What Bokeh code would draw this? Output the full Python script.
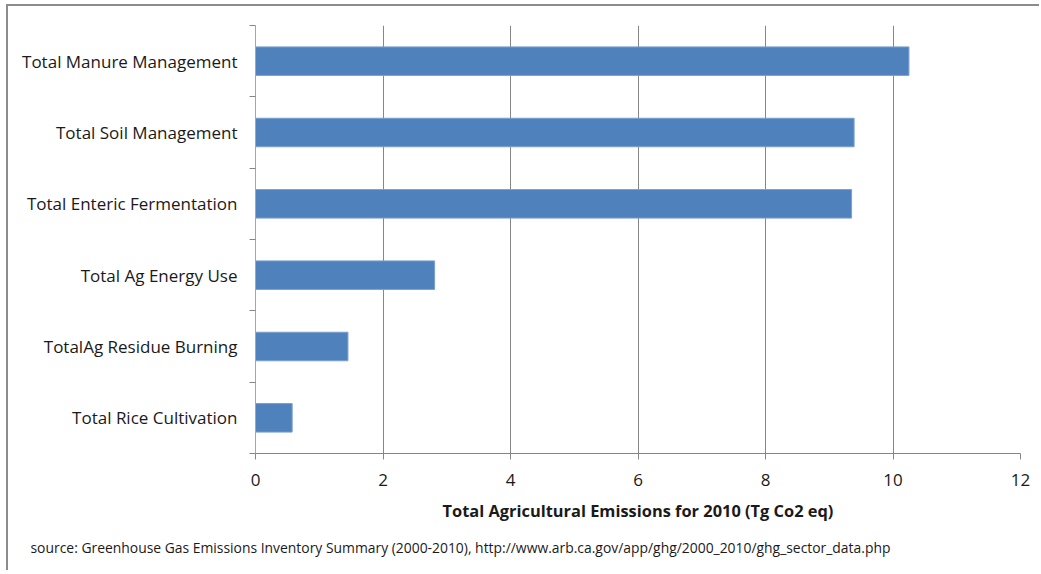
from bokeh.plotting import figure
from bokeh.models import FixedTicker, Range1d, Title, ColumnDataSource
from bokeh.embed import file_html
from bokeh.resources import INLINE

# ---- data ----
categories = [
    "Total Rice Cultivation",
    "TotalAg Residue Burning",
    "Total Ag Energy Use",
    "Total Enteric Fermentation",
    "Total Soil Management",
    "Total Manure Management",
]
values = [0.575, 1.45, 2.81, 9.35, 9.39, 10.25]
x_ticks = [0, 2, 4, 6, 8, 10, 12]
x_min, x_max = 0, 12
axis_title = "Total Agricultural Emissions for 2010 (Tg Co2 eq)"
source_note = ("source: Greenhouse Gas Emissions Inventory Summary (2000-2010), "
               "http://www.arb.ca.gov/app/ghg/2000_2010/ghg_sector_data.php")

FONT = "Open Sans"
TXT = "#1a1a1a"
GRID = "#868686"

n = len(categories)
centers = [i + 0.5 for i in range(n)]
bounds = list(range(n + 1))
src = ColumnDataSource(dict(y=centers, v=values, cat=categories))

p = figure(width=1033, height=566, output_backend="svg", toolbar_location=None,
           x_range=Range1d(x_min, x_max), y_range=Range1d(0, n),
           min_border_left=247, min_border_right=21, min_border_top=19,
           min_border_bottom=119)
p.styles = {"margin-left": "6px", "margin-top": "4px",
            "border-left": "2px solid #8c8c8c", "border-top": "2px solid #8c8c8c"}
p.outline_line_color = None
p.background_fill_color = "white"
p.border_fill_color = "white"

p.hbar(y="y", left=0, right="v", height=0.4, source=src,
       fill_color="#4F81BD", line_color="#7aa0d0", line_width=1)

# x axis
p.xaxis.ticker = FixedTicker(ticks=x_ticks, minor_ticks=[])
p.xaxis.axis_label = axis_title
p.xaxis.axis_label_text_font = FONT
p.xaxis.axis_label_text_font_style = "bold"
p.xaxis.axis_label_text_font_size = "16.4px"
p.xaxis.axis_label_text_color = TXT
p.xaxis.axis_label_standoff = 10
p.xaxis.major_label_text_font = FONT
p.xaxis.major_label_text_font_size = "17px"
p.xaxis.major_label_text_color = TXT
p.xaxis.major_label_standoff = 14
p.xaxis.axis_line_color = GRID
p.xaxis.major_tick_line_color = GRID
p.xaxis.major_tick_out = 6
p.xaxis.major_tick_in = 0
p.xaxis.minor_tick_line_color = None

# y axis
p.yaxis.ticker = FixedTicker(ticks=centers, minor_ticks=bounds)
p.yaxis.major_label_overrides = {c: t for c, t in zip(centers, categories)}
p.yaxis.major_label_text_font = FONT
p.yaxis.major_label_text_font_size = "17px"
p.yaxis.major_label_text_color = TXT
p.yaxis.major_label_standoff = 12
p.yaxis.major_tick_line_color = None
p.yaxis.major_tick_out = 0
p.yaxis.major_tick_in = 0
p.yaxis.minor_tick_line_color = GRID
p.yaxis.minor_tick_out = 6
p.yaxis.minor_tick_in = 0
p.yaxis.axis_line_color = "#a6a6a6"
p.yaxis.axis_line_width = 1

p.xgrid.ticker = FixedTicker(ticks=x_ticks)
p.xgrid.grid_line_color = GRID
p.xgrid.grid_line_width = 1
p.ygrid.grid_line_color = None

note = Title(text=source_note, align="left", offset=-225, standoff=22,
             text_font=FONT, text_font_size="13.9px", text_font_style="normal",
             text_color=TXT)
p.add_layout(note, "below")

open("out.html", "w").write(file_html(p, INLINE))
